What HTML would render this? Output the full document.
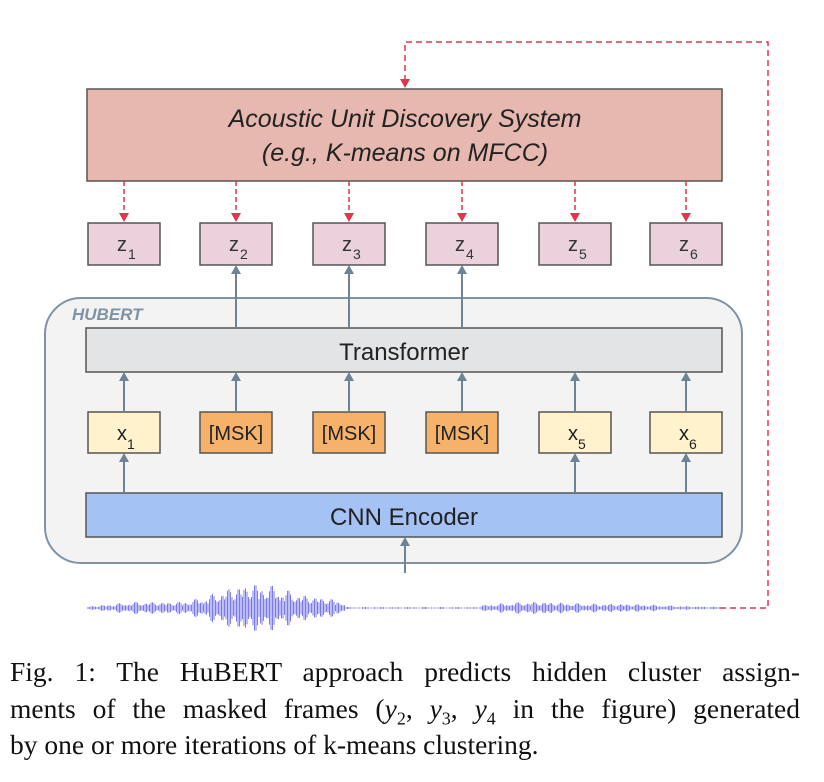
<!DOCTYPE html>
<html><head><meta charset="utf-8"><style>
body{margin:0;background:#fff;width:824px;height:782px;overflow:hidden}
svg{position:absolute;left:0;top:0}
.cap{position:absolute;left:10px;font-family:"Liberation Serif",serif;font-size:27.5px;color:#111;white-space:nowrap}
.j{width:790px;text-align:justify;text-align-last:justify}
</style></head><body>
<svg width="824" height="650" viewBox="0 0 824 650" font-family="Liberation Sans, sans-serif">
<path d="M720,608 L768,608 L768,42 L405,42 L405,80" fill="none" stroke="#e0364b" stroke-width="1.5" stroke-dasharray="6,4"/>
<path d="M400,79 L410,79 L405,88 Z" fill="#e0364b"/>
<rect x="87" y="89" width="635" height="92" fill="#e6b8af" stroke="#555" stroke-width="1.5"/>
<text x="405" y="127" text-anchor="middle" font-size="25" font-style="italic" fill="#222">Acoustic Unit Discovery System</text>
<text x="405" y="161" text-anchor="middle" font-size="25" font-style="italic" fill="#222">(e.g., K-means on MFCC)</text>
<rect x="45" y="298" width="697" height="265" rx="36" fill="#f3f3f3" stroke="#7f93a5" stroke-width="2"/>
<text x="72" y="320" font-size="17" font-weight="bold" font-style="italic" fill="#7f93a5">HUBERT</text>
<rect x="86" y="328" width="636" height="44" fill="#e3e4e6" stroke="#555" stroke-width="1.5"/>
<text x="404" y="360" text-anchor="middle" font-size="24" fill="#222">Transformer</text>
<rect x="86" y="493" width="636" height="44" fill="#a4c2f4" stroke="#555" stroke-width="1.5"/>
<text x="404" y="525" text-anchor="middle" font-size="24" fill="#222">CNN Encoder</text>
<g id="g"></g>
<path id="w" d="" stroke="#5a5ae6" stroke-width="1" fill="none" opacity="0.8"/>
</svg>
<div class="cap j" style="top:656px">Fig. 1: The HuBERT approach predicts hidden cluster assign-</div>
<div class="cap j" style="top:693px">ments of the masked frames (<i>y</i><sub style="font-size:18px">2</sub>, <i>y</i><sub style="font-size:18px">3</sub>, <i>y</i><sub style="font-size:18px">4</sub> in the figure) generated</div>
<div class="cap" style="top:729px">by one or more iterations of k-means clustering.</div>
<script>
const cx=[124,236,349,462,575,686];
let s="";
const ar=(x,y1,y2)=>`<line x1="${x}" y1="${y1}" x2="${x}" y2="${y2+8}" stroke="#6d8396" stroke-width="2"/><path d="M${x-5},${y2+9} L${x+5},${y2+9} L${x},${y2} Z" fill="#6d8396"/>`;
cx.forEach((x,i)=>{
 s+=`<line x1="${x}" y1="181" x2="${x}" y2="214" stroke="#e0364b" stroke-width="1.5" stroke-dasharray="5,3"/><path d="M${x-5},213 L${x+5},213 L${x},222 Z" fill="#e0364b"/>`;
 s+=`<rect x="${x-36}" y="223" width="72" height="42" fill="#ead1dc" stroke="#555" stroke-width="1.5"/><text x="${x-2}" y="251" text-anchor="middle" font-size="20" fill="#333">z</text><text x="${x+4}" y="259" font-size="14" fill="#333">${i+1}</text>`;
 const m=i>=1&&i<=3;
 s+=`<rect x="${x-36}" y="412" width="72" height="41" fill="${m?'#f6b26b':'#fff2cc'}" stroke="#555" stroke-width="1.5"/>`;
 if(m)s+=`<text x="${x}" y="440" text-anchor="middle" font-size="20" fill="#222">[MSK]</text>`;
 else s+=`<text x="${x-2}" y="440" text-anchor="middle" font-size="20" fill="#222">x</text><text x="${x+3}" y="449" font-size="14" fill="#222">${i+1}</text>`;
 s+=ar(x,412,372);
 if(m)s+=ar(x,328,265);
 if(!m)s+=ar(x,493,453);
});
s+=ar(405,573,537);
document.getElementById("g").innerHTML=s;
let d="";
for(let x=88;x<=720;x+=1.5){
 const g=(c,w,h)=>h*Math.exp(-Math.pow((x-c)/w,2));
 let a=1+g(255,55,24)+g(140,40,5)+g(330,25,5);
 if(x>345&&x<480)a=1;
 if(x>=480)a=1+g(530,50,5)+g(620,60,3);
 const r=a*(0.35+0.65*Math.abs(Math.sin(x*2.3)*Math.cos(x*0.37)));
 d+=`M${x.toFixed(1)},${(608-r).toFixed(1)}L${x.toFixed(1)},${(608+r).toFixed(1)}`;
}
document.getElementById("w").setAttribute("d",d);
</script>
</body></html>
